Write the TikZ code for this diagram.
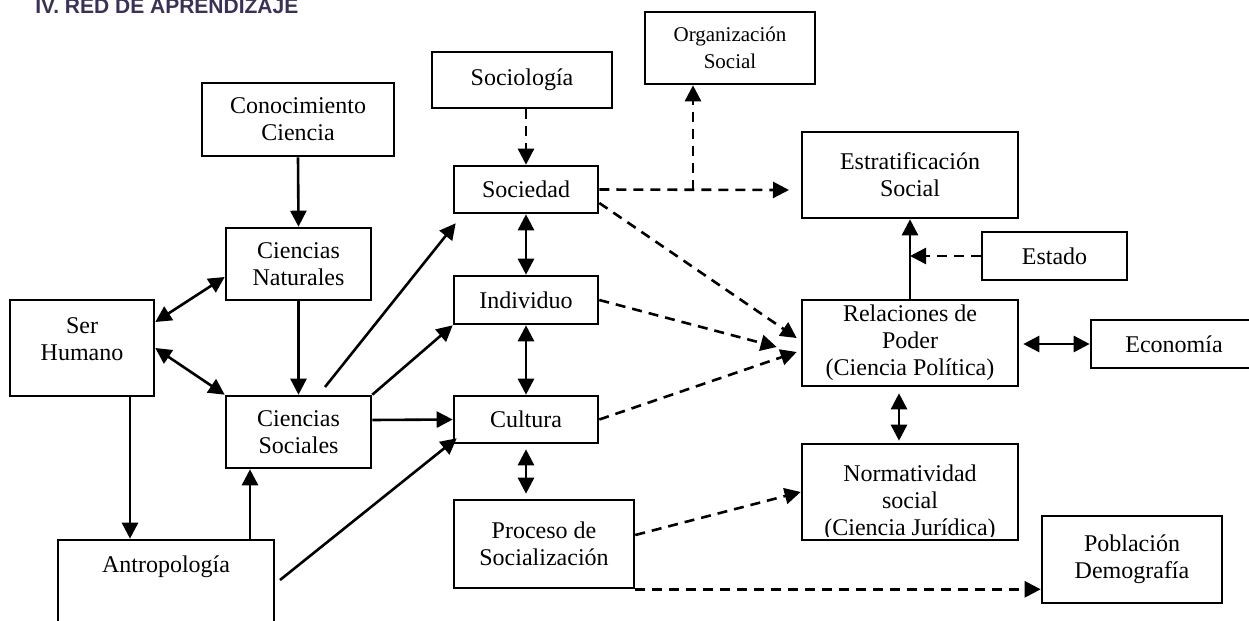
\documentclass[tikz,border=0pt]{standalone}
\usepackage{fontspec}
\setmainfont{Liberation Serif}
\newfontfamily\titlefont{Liberation Sans}
\usetikzlibrary{arrows.meta}
\definecolor{titlecol}{HTML}{3B3057}
\begin{document}
\begin{tikzpicture}[x=0.5pt,y=-0.5pt,
  box/.style={draw, line width=1.3pt, inner sep=0pt, align=center, font=\fontsize{12}{13.5}\selectfont},
  lab/.style={inner sep=0pt, align=center, font=\fontsize{12}{13.5}\selectfont},
  tip/.tip={Triangle[length=8pt,width=8pt]},
  conn/.style={line width=1.3pt, -tip},
  dconn/.style={conn, dash pattern=on 5pt off 3.5pt},
  biconn/.style={line width=1.3pt, tip-tip}]
\useasboundingbox (0,0) rectangle (1249,621);
\clip (0,0) rectangle (1249,621);

% title
\node[anchor=base west, inner sep=0pt, text=titlecol,
      font={\titlefont\fontsize{10.5}{12}\selectfont\bfseries}] (title) at (35,13) {IV. RED DE APRENDIZAJE};

% boxes
\node[box, minimum width=85pt, minimum height=36pt, font=\fontsize{10.5}{13.5}\selectfont] (org) at (730,48) {Organización\\Social};
\node[box, minimum width=108pt, minimum height=43pt] (estrat) at (910,175) {Estratificación\\Social};
\node[box, minimum width=90pt, minimum height=28pt] (socio) at (522,80) {Sociología};
\node[box, minimum width=72pt, minimum height=23.5pt] (soc) at (526,189.5) {Sociedad};
\node[box, minimum width=72pt, minimum height=24pt] (ind) at (526,300) {Individuo};
\node[box, minimum width=72pt, minimum height=23.5pt] (cult) at (526,419.5) {Cultura};
\node[box, minimum width=90pt, minimum height=44pt] (proc) at (544,544) {Proceso de\\Socialización};
\node[box, minimum width=96pt, minimum height=36.5pt] (cono) at (298,119.5) {Conocimiento\\Ciencia};
\node[box, minimum width=72.5pt, minimum height=36pt] (cnat) at (298.5,264) {Ciencias\\Naturales};
\node[box, minimum width=72pt, minimum height=48pt] (ser) at (82,348) {};
\node[lab] (sertext) at (82,339) {Ser\\Humano};
\node[box, minimum width=72.5pt, minimum height=36pt] (csoc) at (298.5,432) {Ciencias\\Sociales};
\node[box, minimum width=108pt, minimum height=100pt] (antro) at (166,640) {};
\node[lab] (antrotext) at (166,567) {Antropología};
\node[box, minimum width=72.5pt, minimum height=24pt] (estado) at (1054.5,256) {Estado};
\node[box, minimum width=108pt, minimum height=43pt] (rel) at (910,343) {Relaciones de\\Poder\\(Ciencia Política)};
\node[box, minimum width=83pt, minimum height=24pt] (eco) at (1174,344) {Economía};
\begin{scope}
  \clip (802,444) rectangle (1018,536);
  \node[lab] (normtext) at (910,503) {Normatividad\\social\\(Ciencia Jurídica)};
\end{scope}
\node[box, minimum width=108pt, minimum height=48pt] (norm) at (910,492) {};
\node[box, minimum width=90pt, minimum height=43.5pt] (pob) at (1132,559.5) {Población\\Demografía};

% helper coordinates
\coordinate (x130) at (130,0);
\coordinate (x250) at (250,0);
\coordinate (x899) at (899,0);
\coordinate (csocA) at (325,387);
\coordinate (antroA) at (280,580);
\coordinate (orgJ) at (693,190);
\coordinate (estratIn) at (789,190);

% solid connectors
\draw[conn] (cono.south) -- (cnat.north);
\draw[conn] (cnat.south) -- (csoc.north);
\draw[biconn] ([yshift=13pt]ser.east) -- ([yshift=-6.5pt]cnat.west);
\draw[biconn] (ser.east) -- (csoc.north west);
\draw[conn] (ser.south -| x130) -- (antro.north -| x130);
\draw[conn] (antro.north -| x250) -- (csoc.south -| x250);
\draw[conn] (csocA) -- ([shift={(3,9)}]soc.south west);
\draw[conn] (csoc.north east) -- (ind.south west);
\draw[conn] ([yshift=6pt]csoc.east) -- (cult.west);
\draw[conn] (antroA) -- ([shift={(4,-6)}]cult.south west);
\draw[biconn] (soc.south) -- (ind.north);
\draw[biconn] (ind.south) -- (cult.north);
\draw[biconn] ([yshift=-2.5pt]cult.south) -- ([yshift=2.5pt]proc.north -| cult.south);
\draw[conn] (rel.north) -- (estrat.south);
\draw[biconn] ([xshift=2pt]rel.east |- eco.west) -- (eco.west);
\draw[biconn] ([yshift=-3pt]rel.south -| x899) -- ([yshift=1pt]norm.north -| x899);

% dashed connectors
\draw[dconn] (socio.south -| soc.north) -- (soc.north);
\draw[dconn] (soc.east) -- (estratIn);
\draw[dconn] (orgJ) -- (org.south -| orgJ);
\draw[dconn] ([yshift=-6.75pt]soc.east) -- ([shift={(-4,-5)}]rel.west);
\draw[dconn] (ind.east) -- ([shift={(-24,4)}]rel.west);
\draw[dconn] (cult.east) -- ([shift={(-4,9)}]rel.west);
\draw[dconn] (estado.west) -- (estado.west -| rel.north);
\draw[dconn] ([yshift=4.5pt]proc.east) -- (norm.west);
\draw[dconn] (proc.south east) -- (pob.west |- proc.south east);
\end{tikzpicture}
\end{document}
